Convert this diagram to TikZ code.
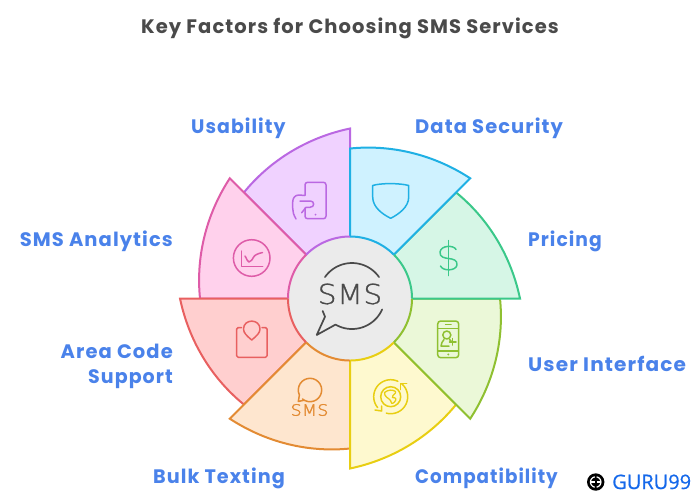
\documentclass[tikz,border=0pt]{standalone}
\usepackage{fontspec}
\setmainfont{Poppins}[LetterSpace=5.5]
\newfontfamily\thinfont[LetterSpace=2,FakeBold=1]{DejaVu Sans ExtraLight}
\newfontfamily\smallthin[LetterSpace=2,FakeBold=2]{DejaVu Sans ExtraLight}
\newfontfamily\logofont[FakeBold=0.6]{Open Sans}
\definecolor{purF}{HTML}{F0D2FF}\definecolor{purS}{HTML}{BA68E2}
\definecolor{bluF}{HTML}{CFF2FF}\definecolor{bluS}{HTML}{1FB0E4}
\definecolor{greF}{HTML}{D6F6E6}\definecolor{greS}{HTML}{3BC88A}
\definecolor{limF}{HTML}{EBF8D8}\definecolor{limS}{HTML}{8FC031}
\definecolor{yelF}{HTML}{FEF9CF}\definecolor{yelS}{HTML}{E8CE12}
\definecolor{oraF}{HTML}{FEE6CF}\definecolor{oraS}{HTML}{E38B33}
\definecolor{redF}{HTML}{FFCFCF}\definecolor{redS}{HTML}{E86060}
\definecolor{pinF}{HTML}{FFD1EC}\definecolor{pinS}{HTML}{DE5CA8}
\definecolor{labelblue}{HTML}{4A82EA}
\definecolor{titlegray}{HTML}{4A4A4A}
\definecolor{hubfill}{HTML}{EBEBEB}
\definecolor{logoblue}{HTML}{1468EA}
\newcommand\sector[3]{\draw[sectorline,fill=#2,draw=#3] (c) -- plot[smooth,samples=25,domain=#1:#1-45,variable=\t]
  ({350+(150+20*(#1-\t)/45-8*(#1-\t)/45*(45-#1+\t)/45)*cos(\t)},{298.5-(150+20*(#1-\t)/45-8*(#1-\t)/45*(45-#1+\t)/45)*sin(\t)}) -- cycle;}
% \arcd{options}{cx}{cy}{r}{from}{to}{rest of the path}
\newcommand\arcd[7]{\draw[#1] plot[smooth,samples=24,domain=#5:#6,variable=\t]({#2+#4*cos(\t)},{#3-#4*sin(\t)}) #7;}
\tikzset{
 x=1pt,y=-1pt,
 sectorline/.style={line width=2pt,miter limit=10,line join=miter},
 iconline/.style={line width=1.5pt,line cap=round,line join=round},
 label/.style={font=\fontsize{19.5}{20}\selectfont\bfseries,text=labelblue,inner sep=0pt},
}
\begin{document}
\begin{tikzpicture}
\useasboundingbox (0,0) rectangle (700,499);
\coordinate (c) at (350,298.5);
\node[font=\fontsize{19.5}{20}\selectfont\bfseries,text=titlegray,inner sep=0pt,anchor=base] (title) at (350,33.5) {Key Factors for Choosing SMS Services};
\sector{135}{purF}{purS}
\sector{180}{pinF}{pinS}
\sector{225}{redF}{redS}
\sector{270}{oraF}{oraS}
\sector{315}{yelF}{yelS}
\sector{360}{limF}{limS}
\sector{45}{greF}{greS}
\sector{90}{bluF}{bluS}
\fill[hubfill] (c) circle[radius=62pt];
\foreach \a/\b/\k in {135/90/purS,180/135/pinS,225/180/redS,270/225/oraS,315/270/yelS,360/315/limS,45/0/greS,90/45/bluS}
  {\arcd{line width=2pt,draw=\k}{350}{298.5}{62}{\a}{\b}{}}
% usability icon
\draw[iconline,purS,rounded corners=2.5pt] (305,195) -- (305,182.3) -- (326,182.3) -- (326,218.7) -- (305,218.7) -- (305,208);
\draw[iconline,purS] (296,219) .. controls (293.5,214.5) and (292.7,212) .. (292.7,208) -- (292.7,202) .. controls (292.7,198) and (295,195) .. (299,195) -- (305,195.5);
\draw[iconline,purS] (300,201) -- (310.5,201) .. controls (314.5,201) and (315,207.3) .. (310,207.3) -- (306,207.3) -- (301.7,212.7);
\fill[purS] (315.5,214.5) circle[radius=1pt];
% data security icon
\draw[iconline,bluS] (372.7,185.5) .. controls (380,183) and (400,183) .. (408.7,185.5) -- (408.7,197) .. controls (408.7,207) and (399,214) .. (390.7,218.3) .. controls (382,214) and (372.7,207) .. (372.7,197) -- cycle;
% pricing icon
\draw[iconline,greS] (448.3,240.5) -- (448.3,275.5);
\draw[iconline,greS] (456,249.5) .. controls (454,245) and (441,245) .. (440,252) .. controls (439.5,257.5) and (445,258) .. (448.5,258.5) .. controls (453,259) and (457.5,260) .. (457,265) .. controls (456,271) and (443,271.5) .. (440.5,266);
% user interface icon
\draw[iconline,limS,rounded corners=3pt] (437.7,321) rectangle (458.7,357.7);
\draw[iconline,limS,line cap=butt] (437.7,328.3) -- (458.7,328.3) (437.7,351) -- (458.7,351);
\draw[iconline,limS] (445.5,324.7) -- (451,324.7);
\fill[limS] (448.3,354.4) circle[radius=1.1pt];
\draw[iconline,limS] (446.8,335) circle[radius=4pt];
\draw[iconline,limS] (444,339.5) .. controls (442,342) and (441.5,343) .. (441,346) -- (449,346);
\draw[iconline,limS] (449.5,339.5) -- (451,341);
\draw[iconline,limS] (449.5,341.8) -- (456,341.8) (452.7,338.5) -- (452.7,345);
% compatibility icon
\draw[iconline,yelS] (390.7,396.7) circle[radius=10pt];
\arcd{iconline,yelS}{390.7}{396.7}{17}{65}{220}{}
\arcd{iconline,yelS}{390.7}{396.7}{17}{50}{-105}{}
\draw[iconline,yelS] (375,410) -- (381.7,411) -- (381.7,406);
\draw[iconline,yelS] (406.7,383.3) -- (400.5,383.3) -- (400.5,389.5);
\draw[line width=1.3pt,yelS,line join=round] (384.5,392.5) .. controls (388,389.5) and (393,389.5) .. (395.5,391.5) .. controls (396.5,394) and (392,394.5) .. (392.5,397.5) .. controls (396,397.5) and (397,399) .. (394.5,402) .. controls (392.5,404.5) and (390,403) .. (390.5,400.5) .. controls (389,398) and (384,397) .. (384.5,392.5) -- cycle;
% bulk texting icon
\arcd{iconline,oraS}{310}{390}{11.7}{205}{-130}{}
\draw[iconline,oraS] (299.4,395) -- (298.3,401.5) -- (304,400.2);
\node[inner sep=0pt,text=oraS,xscale=1.12,font=\smallthin\fontsize{15.5}{18}\selectfont] (smallsms) at (309.5,410) {SMS};
% area code icon
\draw[iconline,redS,rounded corners=1.5pt] (241.5,327.5) -- (236.7,327.5) -- (236.7,357.3) -- (267,357.3) -- (267,327.5) -- (262,327.5);
\draw[iconline,redS] (251.7,340) .. controls (247,336) and (243.5,333) .. (243.5,329) .. controls (243.5,318.5) and (260,318.5) .. (260,329) .. controls (260,333) and (256.5,336) .. (251.7,340) -- cycle;
% analytics icon
\draw[iconline,pinS] (251.7,258) circle[radius=18.3pt];
\draw[iconline,pinS] (241.7,251) -- (241.7,266.7) -- (262.7,266.7);
\draw[iconline,pinS] (245,256) .. controls (247,259) and (247.5,262) .. (249,262) .. controls (251,262) and (252.5,259) .. (254,256.5) .. controls (255,255) and (258,253.5) .. (262.5,252.5);
% hub icon
\node[inner sep=0pt,text=titlegray,xscale=1.08,font=\thinfont\fontsize{27.5}{30}\selectfont] (hubsms) at (350,294) {SMS};
\arcd{line width=1.7pt,titlegray,line cap=round}{352}{296}{33}{145}{35}{}
\arcd{line width=1.7pt,titlegray,line cap=round,line join=round}{352}{296}{33}{-24}{-120}{-- (316.7,335) -- (325,316.7) -- (322.7,311)}
% labels
\node[label,anchor=base west,xscale=.97] (l1) at (191,133) {Usability};
\node[label,anchor=base west] (l2) at (415,133) {Data Security};
\node[label,anchor=base west,xscale=.96] (l3) at (528,246) {Pricing};
\node[label,anchor=base west,xscale=1.03] (l4) at (528,371) {User Interface};
\node[label,anchor=base west,xscale=.94] (l5) at (415,483) {Compatibility};
\node[label,anchor=base east,xscale=.985] (l6) at (285,483) {Bulk Texting};
\node[label,anchor=base east] (l7a) at (173,358) {Area Code};
\node[label,anchor=base east,xscale=.975] (l7b) at (173,383) {Support};
\node[label,anchor=base east] (l8) at (173,246) {SMS Analytics};
% logo
\fill[black] (595.7,482) circle[radius=8.7pt];
\arcd{white,line width=1.2pt}{595.7}{482}{5.2}{100}{260}{}
\arcd{white,line width=1.2pt}{595.7}{482}{5.2}{80}{-80}{}
\draw[white,line width=1.2pt] (590.5,482) -- (594.5,482) (596.9,482) -- (600.9,482);
\node[inner sep=0pt,anchor=base west,text=logoblue,font=\logofont\fontsize{20}{24}\selectfont] (logo) at (612,489) {GURU99};
\end{tikzpicture}
\end{document}
